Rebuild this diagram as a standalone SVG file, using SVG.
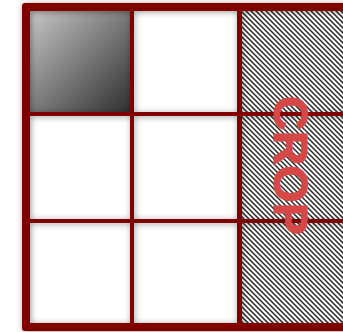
<svg xmlns="http://www.w3.org/2000/svg" width="343" height="332" viewBox="0 0 343 332">
  <style>
    .frame { fill: #800000; }
    .cell { fill: #ffffff; }
    .label { font-family: "Liberation Sans", Arial, sans-serif; font-weight: bold; font-size: 48px; fill: #d64848; stroke: #d64848; stroke-width: 1; }
  </style>
  <defs>
    <linearGradient id="dark" x1="0" y1="0" x2="1" y2="1">
      <stop offset="0" stop-color="#c6c6c6"/>
      <stop offset="1" stop-color="#303030"/>
    </linearGradient>
    <pattern id="hatch" patternUnits="userSpaceOnUse" width="5" height="5">
      <path d="M-1,4 l2,2 M0,0 l5,5 M4,-1 l2,2" stroke="#2a2a2a" stroke-width="1.5" fill="none"/>
    </pattern>
    <filter id="shadow" x="-10%" y="-10%" width="120%" height="120%">
      <feGaussianBlur in="SourceAlpha" stdDeviation="3" result="b"/>
      <feOffset in="b" dx="1" dy="1" result="o"/>
      <feFlood flood-color="#000" flood-opacity="0.4"/>
      <feComposite in2="o" operator="in" result="s"/>
      <feMerge>
        <feMergeNode in="s"/>
        <feMergeNode in="SourceGraphic"/>
      </feMerge>
    </filter>
  </defs>
  <g id="cells">
    <rect class="cell" x="22" y="3" width="330" height="328"/>
    <rect id="cell-dark" x="30" y="11" width="100" height="101" fill="url(#dark)"/>
    <rect id="cell-hatch" x="242" y="11" width="102" height="312" fill="url(#hatch)"/>
  </g>
  <g id="grid" filter="url(#shadow)">
    <path class="frame" fill-rule="evenodd" d="M25,3 H349 a3,3 0 0 1 3,3 V328 a3,3 0 0 1 -3,3 H25 a3,3 0 0 1 -3,-3 V6 a3,3 0 0 1 3,-3 Z M30,11 V323 H344 V11 Z"/>
    <rect class="frame" x="130" y="11" width="4" height="312"/>
    <rect class="frame" x="237" y="11" width="5" height="312"/>
    <rect class="frame" x="30" y="112" width="314" height="4"/>
    <rect class="frame" x="30" y="219" width="314" height="4"/>
  </g>
  <text class="label" transform="translate(274,96) rotate(90)">CROP</text>
</svg>
